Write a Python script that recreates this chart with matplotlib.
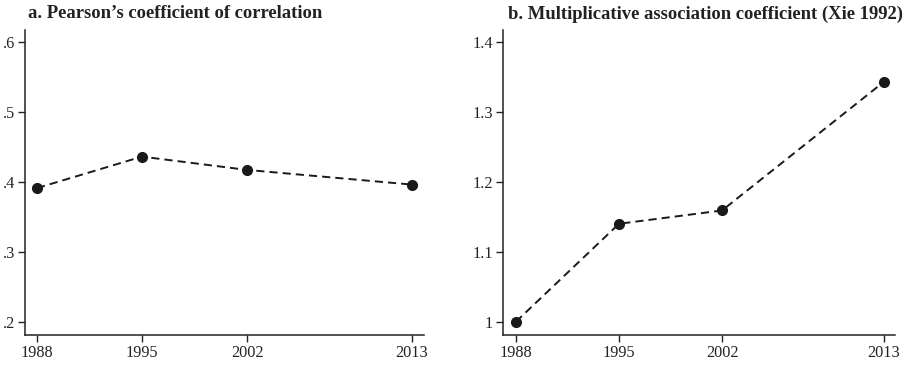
import matplotlib
matplotlib.use("Agg")
import matplotlib.pyplot as plt

# data
years = [1988, 1995, 2002, 2013]
pearson = [0.391, 0.436, 0.417, 0.396]
xie = [1.000, 1.140, 1.159, 1.343]

pearson_ticks = [0.2, 0.3, 0.4, 0.5, 0.6]
pearson_labels = [".2", ".3", ".4", ".5", ".6"]
xie_ticks = [1.0, 1.1, 1.2, 1.3, 1.4]
xie_labels = ["1", "1.1", "1.2", "1.3", "1.4"]

title_a = "a. Pearson\u2019s coefficient of correlation"
title_b = "b. Multiplicative association coefficient (Xie 1992)"

plt.rcParams["font.family"] = ["Liberation Serif", "DejaVu Serif"]

W, H = 910, 365
fig = plt.figure(figsize=(W / 100, H / 100), dpi=100)


def px_axes(x0, x1, ytop, ybot):
    return fig.add_axes([x0 / W, 1 - ybot / H, (x1 - x0) / W, (ybot - ytop) / H])


def style(ax, yt, yl, ylim, xlim):
    ax.plot(years, yt[0], color="#1a1a1a", linestyle=(0, (4.2, 2.6)), linewidth=1.4,
            marker="o", markersize=7, markerfacecolor="#1a1a1a", markeredgecolor="#1a1a1a")
    ax.set_xlim(*xlim)
    ax.set_ylim(*ylim)
    ax.set_xticks(years)
    ax.set_xticklabels([str(y) for y in years])
    ax.set_yticks(yt[1])
    ax.set_yticklabels(yl)
    for s in ["top", "right"]:
        ax.spines[s].set_visible(False)
    for s in ["left", "bottom"]:
        ax.spines[s].set_linewidth(1.1)
        ax.spines[s].set_color("#222222")
    ax.tick_params(direction="out", length=5, width=1.0, color="#222222",
                   labelsize=11.7, labelcolor="#222222", pad=2)


ax1 = px_axes(25, 424, 30, 335)
style(ax1, (pearson, pearson_ticks), pearson_labels, (0.181, 0.617), (1987.2, 2013.8))

ax2 = px_axes(503, 895, 30, 335)
style(ax2, (xie, xie_ticks), xie_labels, (0.981, 1.417), (1987.12, 2013.75))

fig.text(28 / W, 1 - 14 / H, title_a, ha="left", va="center", fontsize=13.4,
         fontweight="bold", color="#222222")
fig.text(508 / W, 1 - 14 / H, title_b, ha="left", va="center", fontsize=13.4,
         fontweight="bold", color="#222222")

fig.savefig("out.png", dpi=100)
